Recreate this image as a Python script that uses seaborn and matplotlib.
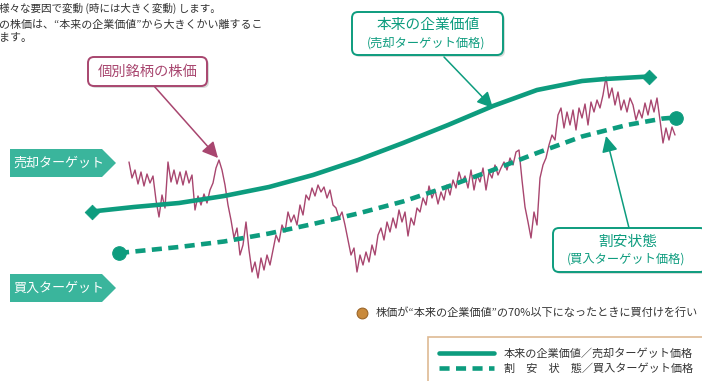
import numpy as np
import matplotlib
matplotlib.use("Agg")
import matplotlib.pyplot as plt
from matplotlib.patches import FancyBboxPatch, Polygon
import seaborn as sns

price_x = np.arange(129, 676, 3)
price_y = [162, 178, 170, 184, 172, 186, 174, 183, 176, 200, 217, 195, 208, 162, 182, 170,
           184, 172, 185, 171, 183, 175, 210, 196, 205, 194, 203, 190, 183, 168, 160, 170,
           185, 205, 220, 238, 228, 255, 245, 222, 250, 272, 262, 278, 258, 270, 255, 265,
           250, 235, 242, 225, 232, 212, 222, 215, 225, 205, 215, 195, 200, 188, 196, 185,
           192, 187, 198, 190, 205, 208, 218, 212, 225, 240, 255, 248, 272, 255, 265, 252,
           262, 245, 255, 235, 228, 240, 222, 232, 218, 228, 210, 222, 212, 236, 218, 225,
           208, 212, 198, 205, 186, 198, 190, 204, 192, 200, 185, 195, 180, 188, 172, 182,
           176, 188, 170, 190, 175, 182, 168, 190, 172, 178, 165, 175, 168, 162, 170, 158,
           165, 152, 150, 180, 207, 222, 238, 212, 225, 178, 165, 158, 145, 135, 140, 115,
           108, 128, 112, 125, 110, 130, 108, 118, 104, 125, 102, 112, 100, 108, 95, 77,
           98, 88, 105, 92, 110, 100, 112, 98, 105, 120, 110, 118, 103, 115, 100, 112,
           98, 120, 143, 128, 140, 127, 135]

value_x = [92, 134, 179, 224, 269, 313, 358, 403, 448, 493, 537, 582, 605, 649]
value_y = [211.5, 207, 203, 196, 187, 175, 160, 143, 125, 106, 90, 81, 79, 76.5]

cheap_x = [119, 134, 179, 224, 269, 313, 358, 403, 448, 493, 537, 582, 627, 663, 676]
cheap_y = [253, 251.5, 247, 241.5, 233.5, 224, 213.5, 201.5, 186.5, 170, 153, 136.5, 125, 118.5, 117.5]

GREEN = "#0d9c7e"
LIGHT = "#3ab59c"
MAUVE = "#a8466f"
TXT = "#333333"

sns.set_style("white")
plt.rcParams["font.family"] = ["Noto Sans CJK JP", "DejaVu Sans"]

fig = plt.figure(figsize=(7.02, 3.81), dpi=100)
ax = fig.add_axes([0, 0, 1, 1])
ax.set_xlim(0, 702)
ax.set_ylim(381, 0)
ax.axis("off")

sns.lineplot(x=price_x, y=price_y, ax=ax, color=MAUVE, lw=1.0, zorder=3)
sns.lineplot(x=value_x, y=value_y, ax=ax, color=GREEN, lw=3.3, zorder=4,
             label="本来の企業価値／売却ターゲット価格")
sns.lineplot(x=cheap_x, y=cheap_y, ax=ax, color=GREEN, lw=3.3, zorder=4,
             linestyle=(0, (2.2, 1.4)), label="割　安　状　態／買入ターゲット価格")
sns.scatterplot(x=[value_x[0], value_x[-1]], y=[value_y[0], value_y[-1]], ax=ax,
                marker="D", s=55, color=GREEN, edgecolor=GREEN, zorder=5)
sns.scatterplot(x=[cheap_x[0], cheap_x[-1]], y=[cheap_y[0], cheap_y[-1]], ax=ax,
                marker="o", s=95, color=GREEN, edgecolor=GREEN, zorder=5)

# intro text (cut off at left edge in the original)
ax.text(-1, 8, "様々な要因で変動 (時には大きく変動) します。", fontsize=7.6, color=TXT, va="center")
ax.text(-1, 25, "の株価は、“本来の企業価値”から大きくかい離するこ", fontsize=7.9, color=TXT, va="center")
ax.text(-1, 38, "ます。", fontsize=7.9, color=TXT, va="center")


def callout(x0, y0, x1, y1, color):
    ax.add_patch(FancyBboxPatch((x0 + 2, y0 + 2), x1 - x0, y1 - y0,
                                boxstyle="round,pad=0,rounding_size=6",
                                fc="#d8dcda", ec="none", zorder=6))
    ax.add_patch(FancyBboxPatch((x0, y0), x1 - x0, y1 - y0,
                                boxstyle="round,pad=0,rounding_size=6",
                                fc="white", ec=color, lw=1.4, zorder=7))


def pointer(tail, head, color):
    ax.annotate("", xy=head, xytext=tail, zorder=6,
                arrowprops=dict(arrowstyle="-|>", color=color, lw=1.1,
                                mutation_scale=24, shrinkA=0, shrinkB=0))


callout(88, 57, 207, 86, MAUVE)
ax.text(147.5, 71.5, "個別銘柄の株価", fontsize=10.3, color=MAUVE, ha="center", va="center", zorder=8)
pointer((154, 86), (218, 158), MAUVE)

callout(352, 12, 503, 55, GREEN)
ax.text(428, 25, "本来の企業価値", fontsize=10.6, color=GREEN, ha="center", va="center", zorder=8)
ax.text(426, 43, "(売却ターゲット価格)", fontsize=8.8, color=GREEN, ha="center", va="center", zorder=8)
pointer((444, 57), (493, 108), GREEN)

callout(553, 228, 706, 272, GREEN)
ax.text(628, 242, "割安状態", fontsize=10.6, color=GREEN, ha="center", va="center", zorder=8)
ax.text(626, 259, "(買入ターゲット価格)", fontsize=8.8, color=GREEN, ha="center", va="center", zorder=8)
pointer((629, 228), (606, 136), GREEN)

# side tags
for top, label in [(149, "売却ターゲット"), (274, "買入ターゲット")]:
    bot = top + 28
    ax.add_patch(Polygon([(10, top), (102, top), (116, top + 14), (102, bot), (10, bot)],
                         closed=True, fc=LIGHT, ec="none", zorder=2))
    ax.text(13, top + 14, label, fontsize=9.4, color="white", va="center", zorder=3)

# bullet note (cut at the right edge in the original)
ax.scatter([362], [313], s=60, color="#c98a3c", edgecolor="#9a6528", lw=0.8, zorder=5)
ax.text(376, 313, "株価が“本来の企業価値”の70%以下になったときに買付けを行い",
        fontsize=8, color=TXT, va="center")

handles, labels = ax.get_legend_handles_labels()
leg = ax.legend(handles, labels, loc="upper left", bbox_to_anchor=(428 / 702, 1 - 337 / 381),
                bbox_transform=fig.transFigure, frameon=True, fancybox=False,
                fontsize=8, handlelength=4.9, handletextpad=0.9, borderpad=1.0,
                labelspacing=0.35, borderaxespad=0)
leg.get_frame().set_edgecolor("#d6a878")
leg.get_frame().set_linewidth(1.2)
for t in leg.get_texts():
    t.set_color(TXT)

fig.savefig("out.png", dpi=100)
